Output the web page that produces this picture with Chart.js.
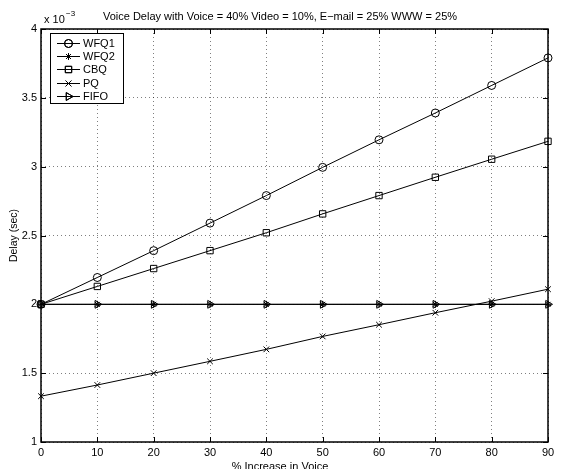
<!DOCTYPE html>
<html><head><meta charset="utf-8">
<script src="https://cdn.jsdelivr.net/npm/chart.js@4"></script>
<style>html,body{margin:0;padding:0;background:#fff;}#wrap{width:575px;height:469px;position:relative}</style>
</head><body><div id="wrap"><canvas id="c" width="575" height="469"></canvas></div>
<script>
// Values are in units of 10^-3 sec
const xValues = [0, 10, 20, 30, 40, 50, 60, 70, 80, 90];
const wfq1 = [2.00, 2.195, 2.39, 2.59, 2.79, 2.995, 3.195, 3.39, 3.59, 3.79];
const wfq2 = [2.00, 2.00, 2.00, 2.00, 2.00, 2.00, 2.00, 2.00, 2.00, 2.00];
const cbq  = [2.00, 2.13, 2.26, 2.39, 2.52, 2.657, 2.79, 2.923, 3.054, 3.184];
const pq   = [1.333, 1.414, 1.50, 1.586, 1.673, 1.767, 1.852, 1.939, 2.023, 2.11];
const fifo = [2.00, 2.00, 2.00, 2.00, 2.00, 2.00, 2.00, 2.00, 2.00, 2.00];
const seriesNames = ['WFQ1', 'WFQ2', 'CBQ', 'PQ', 'FIFO'];
const xTicks = [0, 10, 20, 30, 40, 50, 60, 70, 80, 90];
const yTicks = [1, 1.5, 2, 2.5, 3, 3.5, 4];
const titleText = 'Voice Delay with Voice = 40% Video = 10%, E\u2212mail = 25% WWW = 25%';
const xLabel = '% Increase in Voice';
const yLabel = 'Delay (sec)';

const FAM = '"Liberation Sans", Arial, sans-serif';
const FONT = '11px ' + FAM;
const pts = arr => xValues.map((x, i) => ({x: x, y: arr[i]}));
const styles = [
  {pointStyle: 'circle', pointRadius: 4, rot: 0},
  {pointStyle: 'star', pointRadius: 3.5, rot: 0},
  {pointStyle: 'rect', pointRadius: 4.5, rot: 0},
  {pointStyle: 'crossRot', pointRadius: 4, rot: 0},
  {pointStyle: 'triangle', pointRadius: 4.5, rot: 90}
];
const allData = [wfq1, wfq2, cbq, pq, fifo];
const datasets = allData.map((d, i) => ({
  label: seriesNames[i],
  data: pts(d),
  borderColor: '#000',
  borderWidth: 1,
  backgroundColor: 'rgba(0,0,0,0)',
  pointBackgroundColor: 'rgba(0,0,0,0)',
  pointBorderColor: '#000',
  pointBorderWidth: 1,
  pointStyle: styles[i].pointStyle,
  pointRadius: styles[i].pointRadius,
  pointRotation: styles[i].rot,
  tension: 0,
  clip: false
}));

function drawMarker(ctx, style, r, rot, x, y) {
  Chart.helpers.drawPoint(ctx, {pointStyle: style, radius: r, rotation: rot, borderWidth: 1}, x, y);
  ctx.stroke();
}

const decor = {
  id: 'decor',
  beforeDraw(chart) {
    const ctx = chart.ctx;
    ctx.save();
    ctx.fillStyle = '#fff';
    ctx.fillRect(0, 0, chart.width, chart.height);
    ctx.restore();
  },
  afterDraw(chart) {
    const ctx = chart.ctx;
    const a = chart.chartArea;
    const xs = chart.scales.x, ys = chart.scales.y;
    ctx.save();
    // box
    ctx.strokeStyle = '#000';
    ctx.lineWidth = 1.5;
    ctx.strokeRect(a.left, a.top, a.right - a.left, a.bottom - a.top);
    // inward ticks
    ctx.lineWidth = 1;
    ctx.beginPath();
    xTicks.forEach(v => {
      const px = Math.round(xs.getPixelForValue(v)) + 0.5;
      ctx.moveTo(px, a.bottom); ctx.lineTo(px, a.bottom - 5);
      ctx.moveTo(px, a.top); ctx.lineTo(px, a.top + 5);
    });
    yTicks.forEach(v => {
      const py = Math.round(ys.getPixelForValue(v)) + 0.5;
      ctx.moveTo(a.left, py); ctx.lineTo(a.left + 5, py);
      ctx.moveTo(a.right, py); ctx.lineTo(a.right - 5, py);
    });
    ctx.stroke();
    // texts
    ctx.fillStyle = '#000';
    ctx.font = FONT;
    ctx.textAlign = 'center';
    ctx.textBaseline = 'alphabetic';
    ctx.fillText(titleText, 280, 20);
    ctx.fillText(xLabel, 280, 470);
    ctx.save();
    ctx.translate(14, 235.5);
    ctx.rotate(-Math.PI / 2);
    ctx.font = '10.5px ' + FAM;
    ctx.textBaseline = 'middle';
    ctx.fillText(yLabel, 0, 0);
    ctx.restore();
    // exponent
    ctx.textAlign = 'left';
    ctx.textBaseline = 'alphabetic';
    ctx.fillText('x 10', 44, 23);
    ctx.font = '8px ' + FAM;
    ctx.fillText('\u22123', 66, 15.5);
    // legend
    const lx = 50, ly = 33, lw = 73, lh = 70;
    ctx.fillStyle = '#fff';
    ctx.fillRect(lx, ly, lw, lh);
    ctx.lineWidth = 1;
    ctx.strokeStyle = '#000';
    ctx.strokeRect(lx + 0.5, ly + 0.5, lw, lh);
    ctx.font = FONT;
    ctx.textBaseline = 'middle';
    seriesNames.forEach((n, i) => {
      const y = Math.round(ly + 10 + i * 13.2) + 0.5;
      ctx.strokeStyle = '#000';
      ctx.lineWidth = 1;
      ctx.beginPath();
      ctx.moveTo(57, y); ctx.lineTo(80, y);
      ctx.stroke();
      ctx.fillStyle = 'rgba(0,0,0,0)';
      drawMarker(ctx, styles[i].pointStyle, styles[i].pointRadius, styles[i].rot, 68.5, y);
      ctx.fillStyle = '#000';
      ctx.fillText(n, 83, y);
    });
    ctx.restore();
  }
};

new Chart(document.getElementById('c'), {
  type: 'line',
  data: {datasets: datasets},
  options: {
    responsive: false,
    animation: false,
    devicePixelRatio: 1,
    layout: {padding: {left: 0, top: 29, right: 27, bottom: 0}},
    plugins: {legend: {display: false}, title: {display: false}, tooltip: {enabled: false}},
    scales: {
      x: {
        type: 'linear', min: 0, max: 90,
        afterBuildTicks: s => { s.ticks = xTicks.map(v => ({value: v})); },
        afterFit: s => { s.height = 27; },
        ticks: {color: '#000', font: {family: FAM, size: 11}, padding: 4, maxRotation: 0, autoSkip: false, callback: v => String(v)},
        grid: {color: 'rgba(0,0,0,0.5)', drawTicks: false, lineWidth: 1},
        border: {display: false, dash: [1, 3]}
      },
      y: {
        type: 'linear', min: 1, max: 4,
        afterBuildTicks: s => { s.ticks = yTicks.map(v => ({value: v})); },
        afterFit: s => { s.width = 41; },
        ticks: {color: '#000', font: {family: FAM, size: 11}, padding: 4, autoSkip: false, callback: v => String(v)},
        grid: {color: 'rgba(0,0,0,0.5)', drawTicks: false, lineWidth: 1},
        border: {display: false, dash: [1, 3]}
      }
    }
  },
  plugins: [decor]
});
</script></body></html>
